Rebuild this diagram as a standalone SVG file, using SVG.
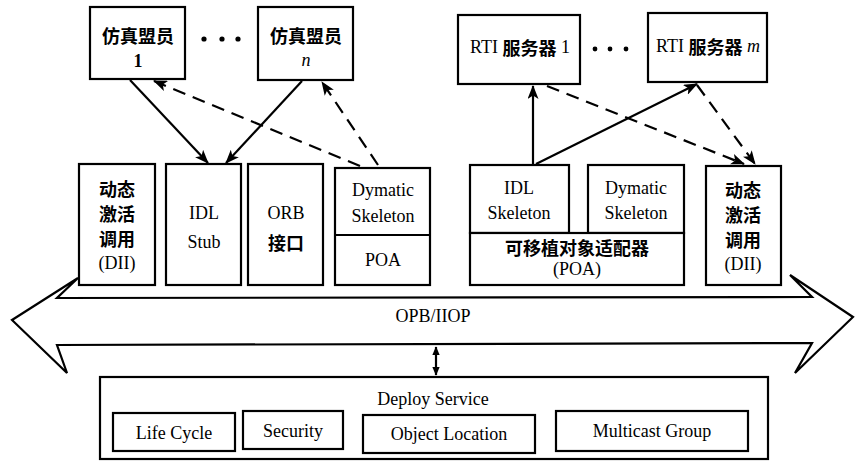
<svg xmlns="http://www.w3.org/2000/svg" width="855" height="462" viewBox="0 0 855 462">
<style>
.b{fill:#fff;stroke:#000;stroke-width:2.2}
.t{font-family:"Liberation Serif","Noto Sans CJK SC",serif;font-size:18px;fill:#000;text-anchor:middle;dominant-baseline:central}
.c{font-family:"Noto Sans CJK SC",sans-serif;font-weight:700;font-size:18px}
.s{fill:none;stroke:#000;stroke-width:2.2}
.d{fill:none;stroke:#000;stroke-width:2.2;stroke-dasharray:13 8}
</style>
<defs>
<marker id="ah" viewBox="0 0 14 11" refX="13" refY="5.5" markerWidth="14" markerHeight="11" markerUnits="userSpaceOnUse" orient="auto">
<path d="M0,0 L14,5.5 L0,11 L3.5,5.5 z" fill="#000"/>
</marker>
<marker id="ah2" viewBox="0 0 12 10" refX="11" refY="5" markerWidth="9" markerHeight="8" markerUnits="userSpaceOnUse" orient="auto-start-reverse">
<path d="M0,0 L12,5 L0,10 z" fill="#000"/>
</marker>
</defs>

<g id="bus">
<polygon class="b" points="12,320 78,278 57,298 812,297 790,275 853,317 795,373 812,343 57,345 67,373"/>
<text class="t" x="433" y="316">OPB/IIOP</text>
</g>

<g id="member1">
<rect class="b" x="90" y="7" width="95" height="72"/>
<text class="t c" x="138" y="35">仿真盟员</text>
<text class="t" x="138" y="61" font-weight="bold">1</text>
</g>
<g id="dots1">
<circle cx="204" cy="39" r="2.6"/><circle cx="222" cy="39" r="2.6"/><circle cx="238" cy="39" r="2.6"/>
</g>
<g id="memberN">
<rect class="b" x="258" y="7" width="95" height="73"/>
<text class="t c" x="306" y="35">仿真盟员</text>
<text class="t" x="306" y="60" font-style="italic" font-size="15">n</text>
</g>

<g id="rti1">
<rect class="b" x="458" y="15" width="122" height="69"/>
<text class="t" x="520" y="47">RTI <tspan class="c">服务器</tspan> 1</text>
</g>
<g id="dots2">
<circle cx="595" cy="49" r="2.4"/><circle cx="610" cy="49" r="2.4"/><circle cx="626" cy="49" r="2.4"/>
</g>
<g id="rtiM">
<rect class="b" x="648" y="13" width="119" height="69"/>
<text class="t" x="708" y="46">RTI <tspan class="c">服务器</tspan> <tspan font-style="italic">m</tspan></text>
</g>

<g id="dii-left">
<rect class="b" x="79" y="164" width="76" height="121"/>
<text class="t c" x="117" y="188">动态</text>
<text class="t c" x="117" y="213">激活</text>
<text class="t c" x="117" y="238">调用</text>
<text class="t" x="117" y="263">(DII)</text>
</g>
<g id="idl-stub">
<rect class="b" x="166" y="164" width="75" height="121"/>
<text class="t" x="204" y="213">IDL</text>
<text class="t" x="204" y="242">Stub</text>
</g>
<g id="orb">
<rect class="b" x="248" y="164" width="75" height="121"/>
<text class="t" x="286" y="213">ORB</text>
<text class="t c" x="286" y="242">接口</text>
</g>
<g id="dsk-left">
<rect class="b" x="335" y="168" width="95" height="117"/>
<line class="s" x1="335" y1="235" x2="430" y2="235"/>
<text class="t" x="383" y="190">Dymatic</text>
<text class="t" x="383" y="216">Skeleton</text>
<text class="t" x="383" y="260">POA</text>
</g>

<g id="idl-skel">
<rect class="b" x="470" y="165" width="99" height="68"/>
<text class="t" x="519" y="188">IDL</text>
<text class="t" x="519" y="213">Skeleton</text>
</g>
<g id="dsk-right">
<rect class="b" x="588" y="165" width="96" height="68"/>
<text class="t" x="636" y="188">Dymatic</text>
<text class="t" x="636" y="213">Skeleton</text>
</g>
<g id="poa">
<rect class="b" x="470" y="233" width="214" height="52"/>
<text class="t c" x="577" y="247">可移植对象适配器</text>
<text class="t" x="577" y="269">(POA)</text>
</g>
<g id="dii-right">
<rect class="b" x="706" y="166" width="75" height="119"/>
<text class="t c" x="743" y="189">动态</text>
<text class="t c" x="743" y="214">激活</text>
<text class="t c" x="743" y="239">调用</text>
<text class="t" x="743" y="264">(DII)</text>
</g>

<g id="deploy">
<rect class="b" x="100" y="377" width="668" height="82"/>
<text class="t" x="433" y="399">Deploy  Service</text>
<g id="lifecycle"><rect class="b" x="113" y="413" width="122" height="38"/><text class="t" x="174" y="433">Life Cycle</text></g>
<g id="security"><rect class="b" x="243" y="411" width="100" height="38"/><text class="t" x="293" y="431">Security</text></g>
<g id="objloc"><rect class="b" x="363" y="415" width="172" height="38"/><text class="t" x="449" y="434">Object Location</text></g>
<g id="multicast"><rect class="b" x="556" y="411" width="192" height="40"/><text class="t" x="652" y="431">Multicast Group</text></g>
</g>

<g id="connectors">
<line class="s" x1="130" y1="80" x2="208" y2="163" marker-end="url(#ah)"/>
<line class="s" x1="302" y1="81" x2="226" y2="163" marker-end="url(#ah)"/>
<line class="d" x1="360" y1="166" x2="154" y2="81" marker-end="url(#ah)"/>
<line class="d" x1="378" y1="165" x2="322" y2="82" marker-end="url(#ah)"/>
<line class="s" x1="533" y1="165" x2="533" y2="86" marker-end="url(#ah)"/>
<line class="s" x1="536" y1="164" x2="697" y2="84" marker-end="url(#ah)"/>
<line class="d" x1="547" y1="86" x2="744" y2="164" marker-end="url(#ah)"/>
<line class="d" x1="697" y1="85" x2="755" y2="164" marker-end="url(#ah)"/>
<line class="s" x1="436" y1="347" x2="436" y2="375" stroke-width="1.8" marker-start="url(#ah2)" marker-end="url(#ah2)"/>
</g>
</svg>
